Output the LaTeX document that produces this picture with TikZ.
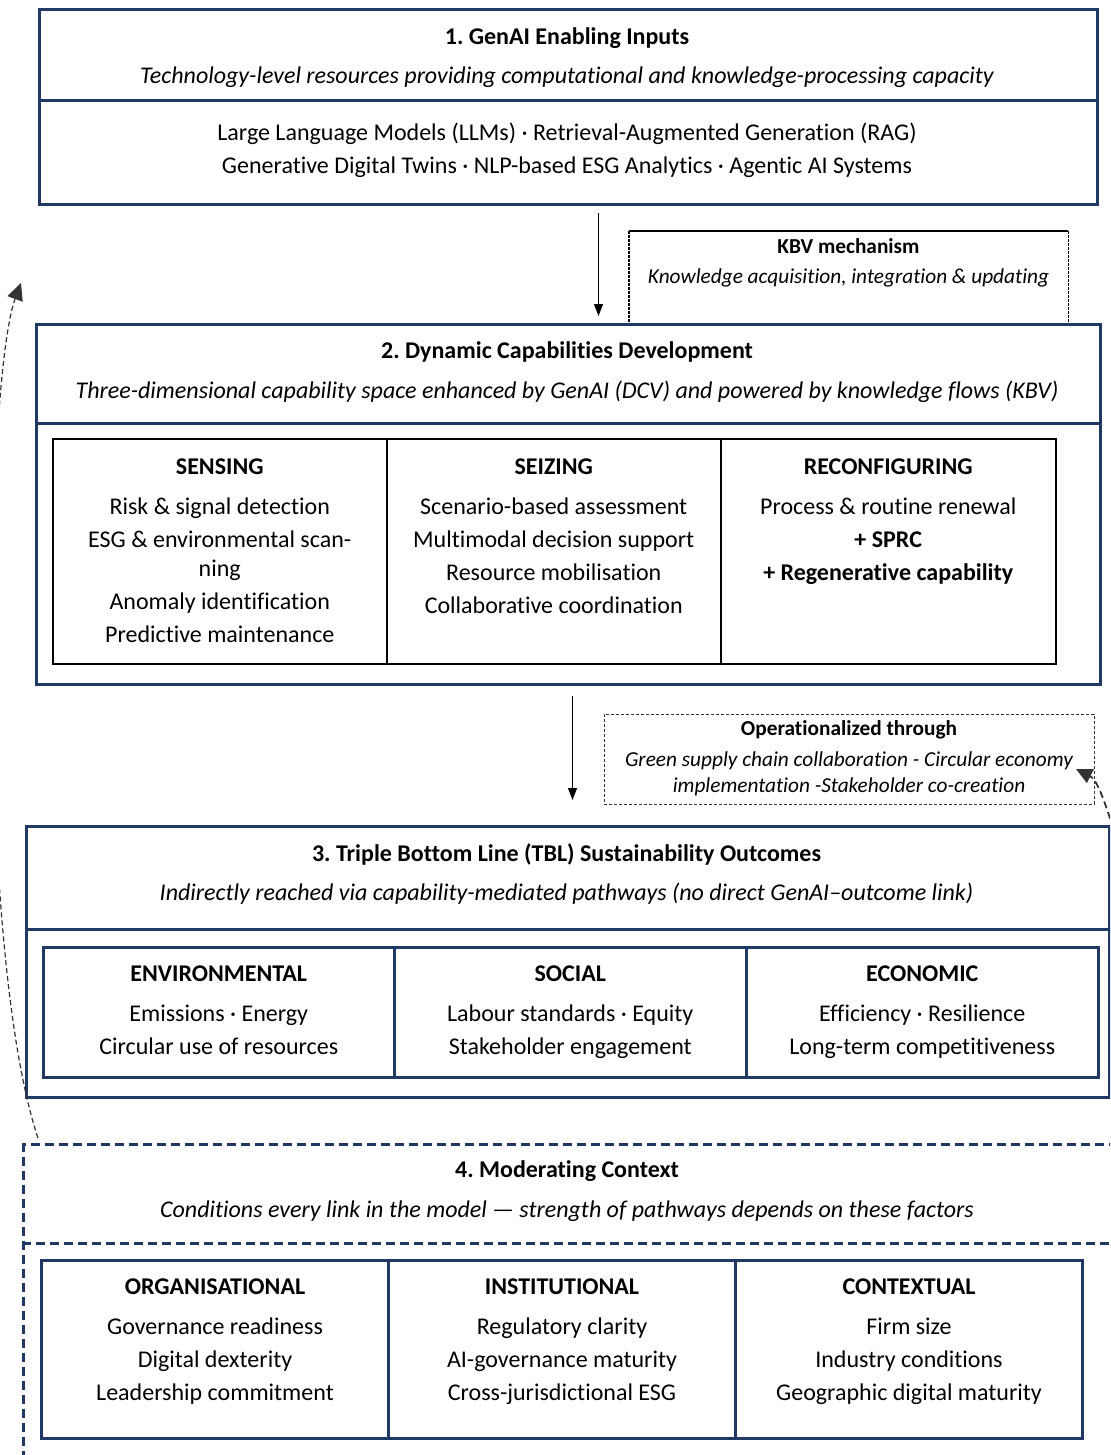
\documentclass[tikz,border=0pt]{standalone}
\usepackage{fontspec}
\setmainfont{Carlito}[Ligatures=NoCommon]
\usetikzlibrary{arrows.meta}
\definecolor{navy}{HTML}{1F3864}
\definecolor{dgray}{HTML}{333333}
\frenchspacing
\tikzset{
  bigbox/.style={draw=navy, line width=3pt, minimum width=#1, anchor=north west, inner sep=0pt},
  subbox/.style={draw=black, line width=1.5pt, anchor=north west, inner sep=0pt},
  subboxn/.style={draw=navy, line width=2.5pt, anchor=north west, inner sep=0pt},
  ttl/.style={font=\fontsize{24}{29}\selectfont\bfseries, inner sep=0pt},
  sub/.style={font=\fontsize{24}{29}\selectfont\itshape, inner sep=0pt},
  body/.style={font=\fontsize{24}{29}\selectfont, align=center, inner sep=0pt, anchor=north},
  smttl/.style={font=\fontsize{21.3}{26}\selectfont\bfseries, inner sep=0pt},
  smsub/.style={font=\fontsize{21.3}{26}\selectfont\itshape, align=center, inner sep=0pt},
  arr/.style={-{Triangle[length=12pt,width=9pt]}, line width=1pt},
  darr/.style={-{Triangle[length=16pt,width=15pt]}, dgray, line width=1.4pt, dash pattern=on 5pt off 3pt},
}
\begin{document}
\begin{tikzpicture}[x=1pt,y=-1pt]
\useasboundingbox (0,0) rectangle (1110,1455);
\clip (0,0) rectangle (1110,1455);

% Box 1
\node[bigbox=1058, minimum height=195] (b1) at (38,8) {};
\draw[navy, line width=3pt] (b1.west |- 0,101) -- (b1.east |- 0,101);
\node[ttl] (b1t) at (567,38) {1. GenAI Enabling Inputs};
\node[sub] (b1s) at (567,77) {Technology-level resources providing computational and knowledge-processing capacity};
\node[body, font=\fontsize{24}{33}\selectfont] (b1b) at (567,123) {Large Language Models (LLMs) · Retrieval-Augmented Generation (RAG)\\Generative Digital Twins · NLP-based ESG Analytics · Agentic AI Systems};

% KBV box
\node[anchor=north west, minimum width=439, minimum height=91, inner sep=0pt] (kbv) at (629,231) {};
\draw[black, line width=1.6pt, dash pattern=on 3pt off 1pt] (kbv.north west) -- (kbv.south west);
\draw[black, line width=1.6pt, dash pattern=on 3pt off 1pt] (kbv.north east) -- (kbv.south east);
\draw[black, line width=2.5pt] (kbv.north west) -- (kbv.north east);
\node[smttl] (kbvt) at (848.5,246) {KBV mechanism};
\node[smsub] (kbvs) at (848.5,278) {Knowledge acquisition, integration \& updating};

% Box 2
\node[bigbox=1064, minimum height=360] (b2) at (35,323) {};
\draw[navy, line width=3pt] (b2.west |- 0,423) -- (b2.east |- 0,423);
\node[ttl] (b2t) at (567,352) {2. Dynamic Capabilities Development};
\node[sub] (b2s) at (567,392) {Three-dimensional capability space enhanced by GenAI (DCV) and powered by knowledge flows (KBV)};
\node[subbox, minimum width=334, minimum height=225] (sen) at (52,438) {};
\node[subbox, minimum width=334, minimum height=225] (sei) at (386,438) {};
\node[subbox, minimum width=335, minimum height=225] (rec) at (720,438) {};
\node[ttl] (sent) at (sen.north |- 0,467) {SENSING};
\node[ttl] (seit) at (sei.north |- 0,467) {SEIZING};
\node[ttl] (rect) at (rec.north |- 0,467) {RECONFIGURING};
\node[body] (senb) at (sen.north |- 0,498) {Risk \& signal detection\\[4pt]ESG \& environmental scan-\\ning\\[4pt]Anomaly identification\\[4pt]Predictive maintenance};
\node[body] (seib) at (sei.north |- 0,498) {Scenario-based assessment\\[4pt]Multimodal decision support\\[4pt]Resource mobilisation\\[4pt]Collaborative coordination};
\node[body] (recb) at (rec.north |- 0,498) {Process \& routine renewal\\[4pt]\textbf{+ SPRC}\\[4pt]\textbf{+ Regenerative capability}};

% Operationalized box
\node[anchor=north west, minimum width=490, minimum height=90, inner sep=0pt, draw=dgray, line width=0.9pt, dash pattern=on 3pt off 2pt] (op) at (604,714) {};
\node[smttl] (opt) at (849,730) {Operationalized through};
\node[smsub] (ops) at (849,774) {Green supply chain collaboration - Circular economy\\implementation -Stakeholder co-creation};

% Box 3
\node[bigbox=1083, minimum height=271] (b3) at (25,825) {};
\draw[navy, line width=3pt] (b3.west |- 0,929) -- (b3.east |- 0,929);
\node[ttl] (b3t) at (566.5,854) {3. Triple Bottom Line (TBL) Sustainability Outcomes};
\node[sub] (b3s) at (566.5,894) {Indirectly reached via capability-mediated pathways (no direct GenAI–outcome link)};
\node[subboxn, minimum width=351, minimum height=130] (env) at (42,946) {};
\node[subboxn, minimum width=352, minimum height=130] (soc) at (393,946) {};
\node[subboxn, minimum width=352, minimum height=130] (eco) at (745,946) {};
\node[ttl] (envt) at (env.north |- 0,974) {ENVIRONMENTAL};
\node[ttl] (soct) at (soc.north |- 0,974) {SOCIAL};
\node[ttl] (ecot) at (eco.north |- 0,974) {ECONOMIC};
\node[body] (envb) at (env.north |- 0,1005) {Emissions · Energy\\[4pt]Circular use of resources};
\node[body] (socb) at (soc.north |- 0,1005) {Labour standards · Equity\\[4pt]Stakeholder engagement};
\node[body] (ecob) at (eco.north |- 0,1005) {Efficiency · Resilience\\[4pt]Long-term competitiveness};

% Box 4
\node[anchor=north west, minimum width=1110, minimum height=330, inner sep=0pt, draw=navy, line width=3pt, dash pattern=on 9pt off 5pt] (b4) at (22,1143) {};
\draw[navy, line width=3pt, dash pattern=on 9pt off 5pt] (b4.west |- 0,1243) -- (b4.east |- 0,1243);
\node[ttl] (b4t) at (567,1171) {4. Moderating Context};
\node[sub] (b4s) at (567,1211) {Conditions every link in the model — strength of pathways depends on these factors};
\node[subboxn, line width=3pt, minimum width=347, minimum height=178] (org) at (40,1259) {};
\node[subboxn, line width=3pt, minimum width=347, minimum height=178] (ins) at (387,1259) {};
\node[subboxn, line width=3pt, minimum width=347, minimum height=178] (con) at (734,1259) {};
\node[ttl] (orgt) at (org.north |- 0,1287) {ORGANISATIONAL};
\node[ttl] (inst) at (ins.north |- 0,1287) {INSTITUTIONAL};
\node[ttl] (cont) at (con.north |- 0,1287) {CONTEXTUAL};
\node[body] (orgb) at (org.north |- 0,1318) {Governance readiness\\[4pt]Digital dexterity\\[4pt]Leadership commitment};
\node[body] (insb) at (ins.north |- 0,1318) {Regulatory clarity\\[4pt]AI-governance maturity\\[4pt]Cross-jurisdictional ESG};
\node[body] (conb) at (con.north |- 0,1318) {Firm size\\[4pt]Industry conditions\\[4pt]Geographic digital maturity};

% Connectors
\draw[arr, shorten <=7pt, shorten >=7pt] ([xshift=30pt]b1.south) -- ([xshift=30pt]b2.north);
\draw[arr, shorten <=10pt, shorten >=25pt] ([xshift=4pt]b2.south) -- ([xshift=4.5pt]b3.north);
\coordinate (lt) at (21,283);
\draw[darr, line width=1.2pt, -{Triangle[length=17pt,width=16pt]}] ([shift={(16pt,5pt)}]b4.north west) .. controls (-25,950) and (-15,380) .. (lt);
\coordinate (rs) at (1120,850);
\coordinate (rt) at (1076,769);
\draw[darr, line width=1.8pt, dash pattern=on 7pt off 4pt] (rs) .. controls (1106,805) and (1098,780) .. (rt);
\end{tikzpicture}
\end{document}
